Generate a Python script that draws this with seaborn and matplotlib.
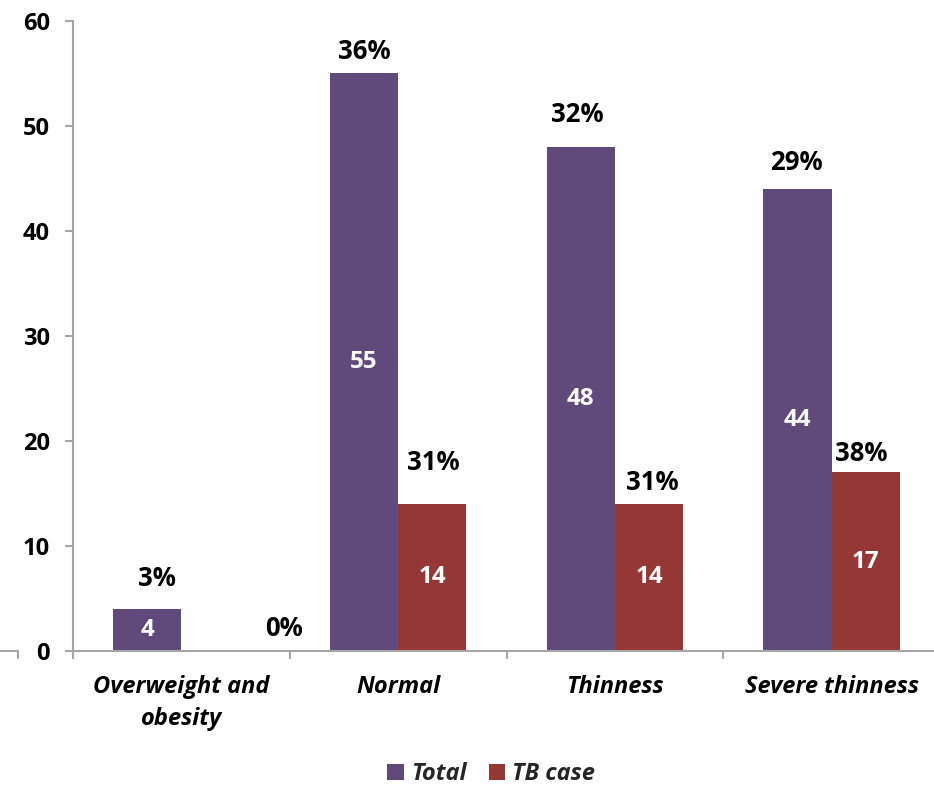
import matplotlib
matplotlib.use("Agg")
import matplotlib.pyplot as plt
from matplotlib.lines import Line2D
from matplotlib.patches import Patch
import seaborn as sns
import pandas as pd

# Chart data
categories = ["Overweight and\nobesity", "Normal", "Thinness", "Severe thinness"]
series = ["Total", "TB case"]
total_counts = [4, 55, 48, 44]
tb_counts = [0, 14, 14, 17]
total_pct = ["3%", "36%", "32%", "29%"]
tb_pct = ["0%", "31%", "31%", "38%"]
y_ticks = [0, 10, 20, 30, 40, 50, 60]

colors = ["#604A7B", "#953735"]

df = pd.DataFrame({
    "category": categories * 2,
    "series": [series[0]] * len(categories) + [series[1]] * len(categories),
    "count": total_counts + tb_counts,
})

sns.set_theme(style="white")
plt.rcParams["font.family"] = ["Open Sans", "DejaVu Sans"]
plt.rcParams["font.weight"] = "bold"

W, H = 934, 786
fig = plt.figure(figsize=(W / 100, H / 100), dpi=100)
ax = fig.add_axes([73 / W, (H - 651) / H, 867 / W, (651 - 20.5) / H])

sns.barplot(data=df, x="category", y="count", hue="series", order=categories,
            hue_order=series, palette=colors, saturation=1, width=0.63,
            ax=ax, legend=False, linewidth=0)

ax.set_xlim(-0.5, 3.5)
ax.set_ylim(0, 60)
ax.set_yticks(y_ticks, labels=[str(v) for v in y_ticks], fontsize=17,
              fontweight="bold")
ax.set_xlabel("")
ax.set_ylabel("")

axis_gray = "#A6A6A6"
for side in ["top", "right"]:
    ax.spines[side].set_visible(False)
for side in ["left", "bottom"]:
    ax.spines[side].set_color(axis_gray)
    ax.spines[side].set_linewidth(1.5)

ax.tick_params(axis="y", which="major", left=True, length=5.8, width=1.5,
               color=axis_gray, pad=11, labelcolor="black")

# category labels centred, tick marks at the group boundaries
ax.set_xticks(range(len(categories)))
ax.set_xticklabels(categories, fontsize=17, fontweight="bold", fontstyle="italic",
                   linespacing=1.45)
ax.tick_params(axis="x", which="major", length=0, pad=17.5, labelcolor="black")
ax.set_xticks([i - 0.5 for i in range(len(categories) + 1)], minor=True)
ax.tick_params(axis="x", which="minor", bottom=True, length=5.8, width=1.5,
               color=axis_gray)

# counts inside the bars
for cont, vals in zip(ax.containers, [total_counts, tb_counts]):
    ax.bar_label(cont, labels=[str(v) if v else "" for v in vals],
                 label_type="center", color="white", fontsize=17.5,
                 fontweight="bold")

# percentage labels above the bars (pixel offsets from the bar top)
offsets = [
    [(10, 30), (0, 22), (-3, 32), (-1, 26)],
    [(68, 23), (1, 41), (3, 21), (-5, 19)],
]
for cont, pcts, offs in zip(ax.containers, [total_pct, tb_pct], offsets):
    for bar, txt, (dx, dy) in zip(cont.patches, pcts, offs):
        xc = bar.get_x() + bar.get_width() / 2
        ax.annotate(txt, xy=(xc, bar.get_height()),
                    xytext=(dx * 0.72, dy * 0.72), textcoords="offset points",
                    ha="center", va="center", fontsize=18.5,
                    fontweight="bold", color="black")

# legend below the plot
handles = [Patch(facecolor=c, edgecolor="none") for c in colors]
leg = fig.legend(handles, series, loc="center",
                 bbox_to_anchor=(491 / W, 1 - 774 / H), ncol=2, frameon=False,
                 handlelength=0.68, handleheight=0.68, handletextpad=0.3,
                 columnspacing=0.95,
                 prop={"size": 17, "weight": "bold", "style": "italic"})

# short stub line at the left edge of the axis baseline
fig.add_artist(Line2D([0, 18 / W, 18 / W], [1 - 651 / H, 1 - 651 / H, 1 - 658 / H],
                      transform=fig.transFigure, color=axis_gray, linewidth=1.5))

fig.savefig("out.png", dpi=100, facecolor="white")
